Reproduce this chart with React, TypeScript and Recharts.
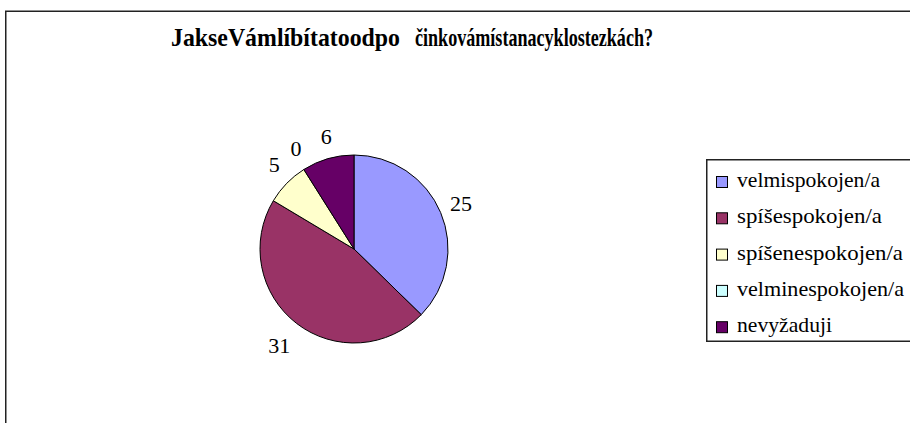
import React from "react";
import { PieChart, Pie, Cell, Legend } from "recharts";

const categories = [
  "velmispokojen/a",
  "spíšespokojen/a",
  "spíšenespokojen/a",
  "velminespokojen/a",
  "nevyžaduji",
];
const values = [25, 31, 5, 0, 6];
const colors = ["#9999FF", "#993366", "#FFFFCC", "#CCFFFF", "#660066"];
const titleParts = ["JakseVámlíbítatoodpo", "činkovámístanacyklostezkách?"];

const data = categories.map((name, i) => ({ name, value: values[i] }));

const FONT = "'Liberation Serif', 'Times New Roman', Times, serif";
const RAD = Math.PI / 180;

const legendTextWidths = [143, 145, 166, 167, 95];

const renderLabel = (props: any) => {
  const { cx, cy, midAngle, outerRadius, value } = props;
  const s = Math.sin(-midAngle * RAD);
  const r = outerRadius + 22 + (s > 0 ? 8 * s : 0);
  const ang = -midAngle * RAD + (s < 0 && Math.cos(-midAngle * RAD) < 0 ? 0.04 : 0);
  const x = cx + r * Math.cos(ang);
  const y = cy + r * Math.sin(ang);
  return (
    <text
      x={x}
      y={y}
      textAnchor="middle"
      dominantBaseline="central"
      style={{ fontFamily: FONT, fontSize: 22 }}
      fill="#000"
    >
      {value}
    </text>
  );
};

const renderLegend = () => {
  return (
    <svg width={210} height={184} style={{ display: "block", overflow: "visible" }}>
      <rect x={0.75} y={0.75} width={220} height={181.5} fill="#fff" stroke="#222" strokeWidth={1.5} />
      {categories.map((name, i) => (
        <g key={name}>
          <rect
            x={10.5}
            y={17.5 + i * 36.3}
            width={11}
            height={11}
            fill={colors[i]}
            stroke="#000"
            strokeWidth={1}
          />
          <text
            x={31}
            y={28 + i * 36.3}
            style={{ fontFamily: FONT, fontSize: 22 }}
            fill="#000"
            textLength={legendTextWidths[i]}
            lengthAdjust="spacingAndGlyphs"
          >
            {name}
          </text>
        </g>
      ))}
    </svg>
  );
};

export default function App() {
  return (
    <div
      style={{
        position: "absolute",
        left: 0,
        top: 0,
        width: 910,
        height: 423,
        overflow: "hidden",
        background: "#fff",
        fontFamily: FONT,
      }}
    >
      <PieChart width={910} height={423} margin={{ top: 0, right: 0, bottom: 0, left: 0 }}>
        <rect x={5.75} y={11.25} width={930} height={440} fill="none" stroke="#222" strokeWidth={1.5} />
        <text
          x={171}
          y={46}
          style={{ fontFamily: FONT, fontSize: 26, fontWeight: "bold" }}
          fill="#000"
          textLength={229}
          lengthAdjust="spacingAndGlyphs"
        >
          {titleParts[0]}
        </text>
        <text
          x={415}
          y={46}
          style={{ fontFamily: FONT, fontSize: 26, fontWeight: "bold" }}
          fill="#000"
          textLength={238}
          lengthAdjust="spacingAndGlyphs"
        >
          {titleParts[1]}
        </text>
        <Pie
          data={data}
          dataKey="value"
          nameKey="name"
          cx={354}
          cy={249}
          outerRadius={94}
          innerRadius={0}
          startAngle={90}
          endAngle={-270}
          stroke="#000"
          strokeWidth={1}
          label={renderLabel}
          labelLine={false}
          isAnimationActive={false}
        >
          {data.map((d, i) => (
            <Cell key={d.name} fill={colors[i]} />
          ))}
        </Pie>
        <Legend
          content={renderLegend}
          wrapperStyle={{ position: "absolute", left: 706, top: 159, width: 210, height: 184 }}
        />
      </PieChart>
    </div>
  );
}
